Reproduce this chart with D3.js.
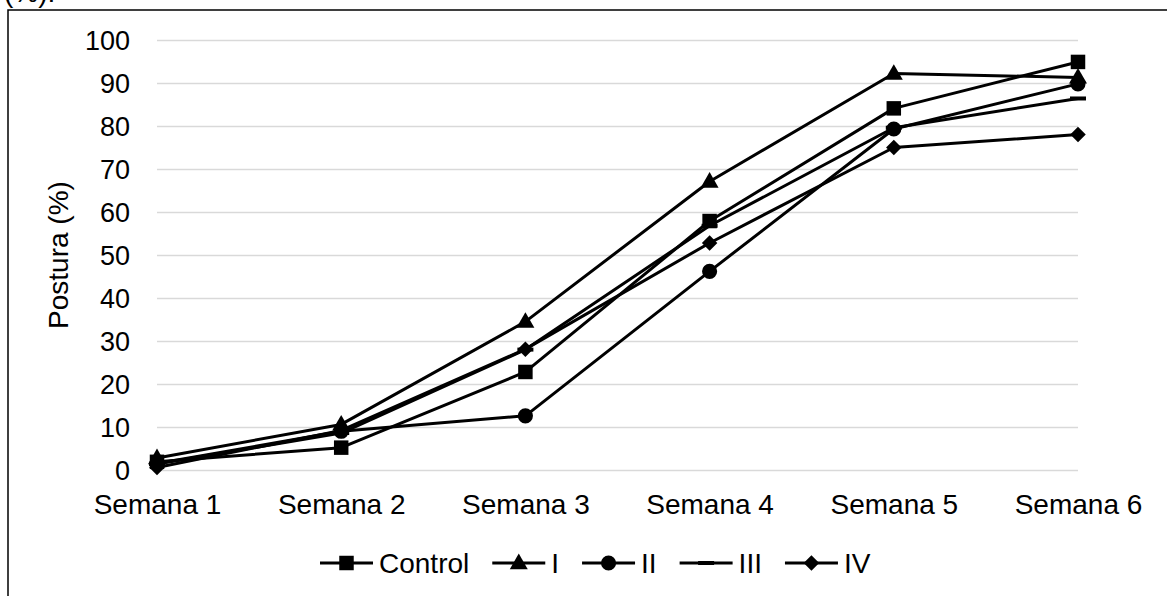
<!DOCTYPE html>
<html>
<head>
<meta charset="utf-8">
<script src="https://cdn.jsdelivr.net/npm/d3@7/dist/d3.min.js"></script>
<style>
  body { margin: 0; background: #fff; }
  text { font-family: "Liberation Sans", Arial, sans-serif; fill: #000; }
</style>
</head>
<body>
<svg width="1167" height="596"></svg>
<script>
// categories and series
var weeks = ["Semana 1", "Semana 2", "Semana 3", "Semana 4", "Semana 5", "Semana 6"];
var control = [1.9, 5.2, 22.8, 57.9, 84.1, 94.9];
var serieI = [2.8, 10.6, 34.5, 67.1, 92.2, 91.3];
var serieII = [1.5, 9.0, 12.6, 46.2, 79.3, 89.8];
var serieIII = [1.4, 8.6, 28.0, 56.8, 79.6, 86.4];
var serieIV = [0.6, 9.2, 28.1, 52.8, 75.0, 78.0];
var yTicks = [0, 10, 20, 30, 40, 50, 60, 70, 80, 90, 100];

var series = [
  { name: "Control", values: control, marker: "square" },
  { name: "I", values: serieI, marker: "triangle" },
  { name: "II", values: serieII, marker: "circle" },
  { name: "III", values: serieIII, marker: "dash" },
  { name: "IV", values: serieIV, marker: "diamond" }
];

var svg = d3.select("svg");

// caption fragment cut at the top
svg.append("text")
  .attr("x", 4).attr("y", 2)
  .style("font-size", "28px")
  .text("(%).");

// outer frame
svg.append("rect")
  .attr("x", 8).attr("y", 10)
  .attr("width", 1200).attr("height", 620)
  .attr("fill", "none")
  .attr("stroke", "#000")
  .attr("stroke-width", 1.5);

var x = d3.scalePoint().domain(weeks).range([157, 1078]);
var y = d3.scaleLinear().domain([0, 100]).range([470, 40]);

// y axis with gridlines
var yAxis = svg.append("g")
  .attr("transform", "translate(157,0)")
  .call(d3.axisLeft(y).tickValues(yTicks).tickSize(-921).tickPadding(27));
yAxis.select(".domain").remove();
yAxis.selectAll(".tick line").attr("stroke", "#d9d9d9").attr("stroke-width", 1.5);
yAxis.selectAll(".tick text").style("font-size", "27px").attr("dy", "0.36em");

// x axis
var xAxis = svg.append("g")
  .attr("transform", "translate(0,470)")
  .call(d3.axisBottom(x).tickSize(0).tickPadding(24));
xAxis.select(".domain").remove();
xAxis.selectAll(".tick text").style("font-size", "28px").attr("dy", "0.71em");

// y axis title
svg.append("text")
  .attr("transform", "translate(68,255) rotate(-90)")
  .attr("text-anchor", "middle")
  .style("font-size", "28px")
  .text("Postura (%)");

function drawMarker(g, type) {
  if (type === "square") {
    g.append("path").attr("d", d3.symbol(d3.symbolSquare, 210)());
  } else if (type === "triangle") {
    g.append("path").attr("d", d3.symbol(d3.symbolTriangle, 140)()).attr("transform", "translate(0,1)");
  } else if (type === "circle") {
    g.append("path").attr("d", d3.symbol(d3.symbolCircle, 180)());
  } else if (type === "dash") {
    g.append("rect").attr("x", -8).attr("y", -2).attr("width", 16).attr("height", 4);
  } else if (type === "diamond") {
    g.append("path").attr("d", d3.symbol(d3.symbolSquare, 120)()).attr("transform", "rotate(45)");
  }
  g.selectAll("path,rect").attr("fill", "#000");
}

var line = d3.line()
  .x(function(d, i) { return x(weeks[i]); })
  .y(function(d) { return y(d); });

series.forEach(function(s) {
  svg.append("path")
    .datum(s.values)
    .attr("d", line)
    .attr("fill", "none")
    .attr("stroke", "#000")
    .attr("stroke-width", 3)
    .attr("stroke-linejoin", "round");
  s.values.forEach(function(v, i) {
    var g = svg.append("g").attr("transform", "translate(" + x(weeks[i]) + "," + y(v) + ")");
    drawMarker(g, s.marker);
  });
});

// legend
var lx = 320, ly = 563;
series.forEach(function(s) {
  var g = svg.append("g").attr("transform", "translate(" + lx + "," + ly + ")");
  g.append("line").attr("x1", 0).attr("x2", 53).attr("y1", 0).attr("y2", 0)
    .attr("stroke", "#000").attr("stroke-width", 3);
  var m = g.append("g").attr("transform", "translate(26.5,0)");
  drawMarker(m, s.marker);
  var t = g.append("text").attr("x", 59).attr("y", 10)
    .style("font-size", "28px").text(s.name);
  lx += 59 + t.node().getComputedTextLength() + 23;
});
</script>
</body>
</html>
